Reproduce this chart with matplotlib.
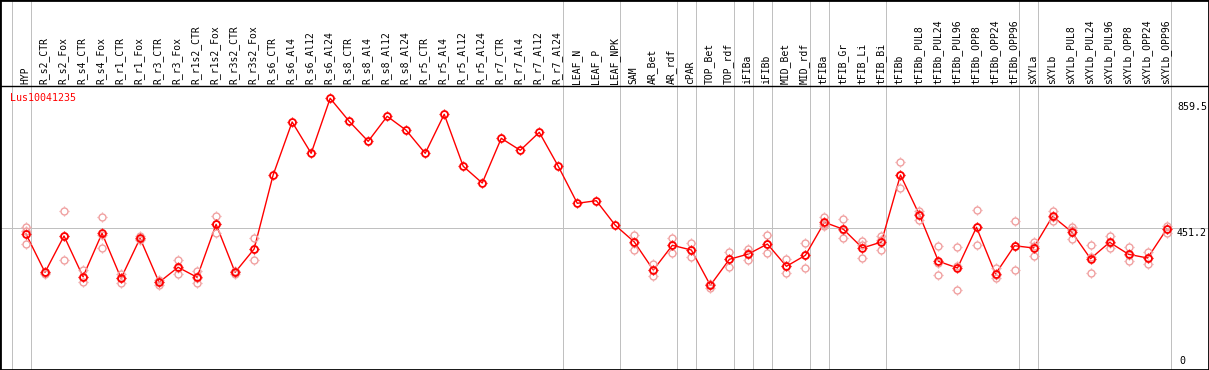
import matplotlib
matplotlib.use("Agg")
import matplotlib.pyplot as plt
from matplotlib.path import Path
import numpy as np

# categories (x axis)
categories = ["HYP", "R_s2_CTR", "R_s2_Fox", "R_s4_CTR", "R_s4_Fox", "R_r1_CTR", "R_r1_Fox",
              "R_r3_CTR", "R_r3_Fox", "R_r1s2_CTR", "R_r1s2_Fox", "R_r3s2_CTR", "R_r3s2_Fox",
              "R_s6_CTR", "R_s6_Al4", "R_s6_Al12", "R_s6_Al24", "R_s8_CTR", "R_s8_Al4",
              "R_s8_Al12", "R_s8_Al24", "R_r5_CTR", "R_r5_Al4", "R_r5_Al12", "R_r5_Al24",
              "R_r7_CTR", "R_r7_Al4", "R_r7_Al12", "R_r7_Al24", "LEAF_N", "LEAF_P", "LEAF_NPK",
              "SAM", "AR_Bet", "AR_rdf", "cPAR", "TOP_Bet", "TOP_rdf", "iFIBa", "iFIBb",
              "MID_Bet", "MID_rdf", "tFIBa", "tFIB_Gr", "tFIB_Li", "tFIB_Bi", "tFIBb",
              "tFIBb_PUL8", "tFIBb_PUL24", "tFIBb_PUL96", "tFIBb_OPP8", "tFIBb_OPP24",
              "tFIBb_OPP96", "sXYLa", "sXYLb", "sXYLb_PUL8", "sXYLb_PUL24", "sXYLb_PUL96",
              "sXYLb_OPP8", "sXYLb_OPP24", "sXYLb_OPP96"]

# mean expression per category
means = [432.8, 309.1, 426.4, 294.9, 435.1, 289.7, 418.9, 276.8, 325.3, 293.0, 464.1, 309.1, 384.4,
         623.4, 794.6, 693.5, 871.1, 796.8, 732.2, 813.0, 767.8, 693.5, 819.4, 651.5, 597.5,
         741.9, 703.2, 761.3, 651.5, 532.0, 540.4, 460.9,
         407.0, 316.5, 396.3, 381.1, 267.1, 351.1, 368.2, 400.5, 328.5, 364.0,
         470.6, 448.0, 387.6, 407.0, 623.4, 494.2, 344.6, 323.0, 454.5, 303.6, 395.0,
         387.6, 490.0, 440.2, 353.0, 406.0, 367.2, 355.3, 448.0]

# replicate values per category
replicates = [
    [455.4, 442.5, 400.5], [310.1, 306.8, 303.6], [506.1, 425.1, 347.9], [316.5, 293.9, 276.8],
    [486.8, 430.6, 387.6], [303.6, 290.7, 275.5], [427.3, 416.7, 413.4], [284.2, 277.8, 268.1],
    [348.8, 323.9, 302.6], [314.3, 290.7, 273.6], [491.0, 464.1, 437.0], [311.7, 308.5, 305.2],
    [418.9, 385.3, 348.8],
    [], [], [], [], [], [], [], [], [], [], [], [], [], [], [], [], [], [], [],
    [428.6, 403.7, 381.1], [334.9, 316.5, 298.1], [419.9, 398.3, 370.5], [403.7, 382.1, 357.6],
    [272.9, 267.1, 260.0], [375.6, 352.1, 325.3], [384.4, 371.4, 348.8], [428.6, 401.5, 371.4],
    [351.1, 328.5, 305.9], [403.7, 366.0, 322.0], [488.7, 465.1, 458.7], [480.3, 445.7, 418.9],
    [410.2, 398.3, 354.3], [426.4, 413.4, 381.1], [663.8, 625.0, 580.7], [507.1, 497.4, 478.0],
    [393.1, 340.1, 300.4], [389.9, 328.5, 251.0], [510.3, 456.4, 396.3], [322.0, 299.4, 289.7],
    [473.8, 395.0, 316.5], [408.0, 394.1, 360.8], [506.1, 488.7, 474.8], [456.4, 446.7, 417.6],
    [396.3, 357.6, 305.9], [426.4, 402.8, 388.6], [390.8, 366.0, 344.6], [373.7, 355.3, 336.9],
    [458.7, 448.0, 437.0],
]

# last category index of each group (gray separators)
group_ends = [-1, 0, 28, 31, 34, 35, 37, 38, 39, 41, 42, 45, 52, 53, 60]

gene = "Lus10041235"
ytick_values = [0, 451.2, 859.5]

W, H = 1209, 370
x0, dx = 26.0, 19.01       # pixel of first category, spacing
y0, dy = 368.0, 0.3096     # pixel of value 0, pixels per unit

fig = plt.figure(figsize=(W / 100, H / 100), dpi=100)
ax = fig.add_axes([0, 0, 1, 1])
ax.set_xlim((0 - x0) / dx, (W - x0) / dx)
ax.set_ylim((y0 - H) / dy, y0 / dy)

def px_to_ax_y(py):
    return 1 - py / H

# four small ticks around each circle
r_in, r_out = 1.0, 1.45
tick_marker = Path([(0, r_in), (0, r_out), (0, -r_in), (0, -r_out),
                    (r_in, 0), (r_out, 0), (-r_in, 0), (-r_out, 0)],
                   [Path.MOVETO, Path.LINETO] * 4)

def draw_marks(xv, yv, color, mew):
    ax.plot(xv, yv, linestyle="none", marker="o", markersize=5.0, markerfacecolor="none",
            markeredgecolor=color, markeredgewidth=mew, zorder=5)
    ax.plot(xv, yv, linestyle="none", marker=tick_marker, markersize=7.4,
            markeredgecolor=color, markeredgewidth=0.9, zorder=5)

lw1 = 0.72
for g in group_ends:
    ax.axvline(g + 0.25, color="#c0c0c0", lw=lw1, zorder=1)
ax.axhline(451.2, color="#c0c0c0", lw=lw1, zorder=1)
ax.axhline((y0 - 86) / dy, color="black", lw=1.0, zorder=2)

xs = np.arange(len(categories))
rx, ry = [], []
for i, reps in enumerate(replicates):
    rx += [i] * len(reps)
    ry += reps
draw_marks(rx, ry, "#f0a0a0", 1.0)

ax.plot(xs, means, color="#ff0000", lw=1.0, zorder=4)
draw_marks(xs, means, "#ff0000", 1.3)

tr = ax.get_xaxis_transform()
for i, name in enumerate(categories):
    ax.text(i - 0.05, px_to_ax_y(84), name, rotation=90, ha="center", va="bottom",
            fontsize=7, family="DejaVu Sans Mono", transform=tr)

ax.text((10 - x0) / dx, (y0 - 93) / dy, gene, color="#ff0000", fontsize=7.2,
        family="DejaVu Sans Mono", ha="left", va="top")

for v in ytick_values:
    if v == 0:
        ax.text((1179 - x0) / dx, (y0 - 366) / dy, "0", fontsize=7.2,
                family="DejaVu Sans Mono", ha="left", va="bottom")
    else:
        ax.text((1177 - x0) / dx, v, f"{v}", fontsize=7.2, family="DejaVu Sans Mono",
                ha="left", va="top")

ax.set_xticks([])
ax.set_yticks([])
for s in ax.spines.values():
    s.set_color("black")
    s.set_linewidth(2.0)

fig.savefig("out.png", dpi=100)
